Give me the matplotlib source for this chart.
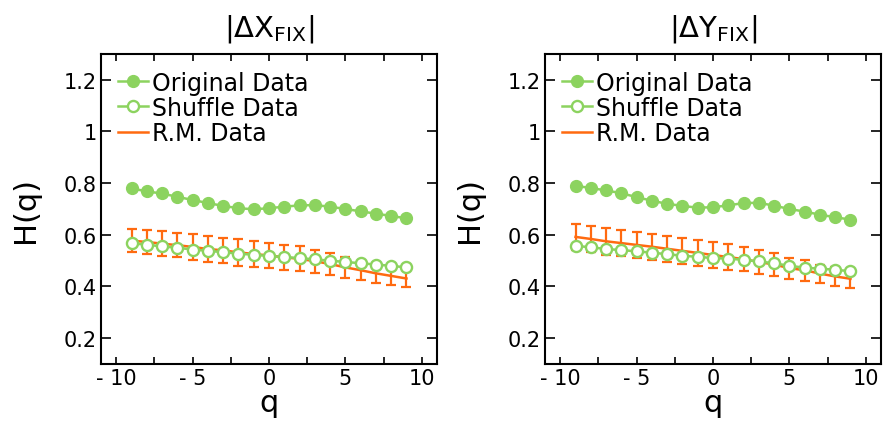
import matplotlib
matplotlib.use('Agg')
import matplotlib.pyplot as plt

# Hurst exponents H(q)
q = list(range(-9, 10))

orig_dx = [0.780, 0.768, 0.760, 0.747, 0.735, 0.723, 0.712, 0.703, 0.699, 0.703,
           0.709, 0.714, 0.715, 0.709, 0.700, 0.691, 0.682, 0.673, 0.664]
shuf_dx = [0.567, 0.562, 0.555, 0.550, 0.543, 0.538, 0.533, 0.527, 0.523, 0.518,
           0.514, 0.510, 0.505, 0.500, 0.495, 0.490, 0.485, 0.480, 0.474]
rm_dx = [0.578, 0.572, 0.566, 0.560, 0.553, 0.545, 0.540, 0.532, 0.526, 0.520,
         0.513, 0.507, 0.498, 0.487, 0.474, 0.463, 0.451, 0.441, 0.431]
rm_err_dx = [0.045, 0.047, 0.047, 0.047, 0.049, 0.049, 0.049, 0.051, 0.052, 0.049,
             0.049, 0.048, 0.045, 0.042, 0.040, 0.037, 0.036, 0.036, 0.034]

orig_dy = [0.790, 0.781, 0.772, 0.761, 0.746, 0.732, 0.720, 0.712, 0.705, 0.707,
           0.714, 0.723, 0.724, 0.713, 0.700, 0.690, 0.678, 0.668, 0.659]
shuf_dy = [0.557, 0.552, 0.545, 0.541, 0.536, 0.531, 0.525, 0.519, 0.515, 0.510,
           0.508, 0.503, 0.497, 0.490, 0.480, 0.473, 0.469, 0.465, 0.459]
rm_dy = [0.592, 0.584, 0.575, 0.568, 0.561, 0.554, 0.546, 0.538, 0.530, 0.522,
         0.514, 0.506, 0.495, 0.485, 0.471, 0.463, 0.450, 0.439, 0.430]
rm_err_dy = [0.049, 0.050, 0.053, 0.051, 0.051, 0.050, 0.051, 0.051, 0.051, 0.051,
             0.049, 0.047, 0.045, 0.045, 0.041, 0.041, 0.035, 0.036, 0.035]

titles = [r'$|\mathrm{\Delta X}_{\mathrm{FIX}}|$', r'$|\mathrm{\Delta Y}_{\mathrm{FIX}}|$']

xticks = [-10, -7.5, -5, -2.5, 0, 2.5, 5, 7.5, 10]
xticklabels = ['- 10', '', '- 5', '', '0', '', '5', '', '10']
yticks = [0.2, 0.4, 0.6, 0.8, 1.0, 1.2]
yticklabels = ['0.2', '0.4', '0.6', '0.8', '1', '1.2']

GREEN = '#8cd35f'
ORANGE = '#ff6a10'

plt.rcParams['mathtext.fontset'] = 'dejavusans'


def draw_panel(ax, orig, shuf, rm, rm_err, title):
    # R.M. first so the open circles sit on top of it
    ax.errorbar(q, rm, yerr=rm_err, fmt='none', ecolor=ORANGE, elinewidth=1.6,
                capsize=3.5, capthick=1.6, zorder=1)
    ax.plot(q, rm, color=ORANGE, lw=1.8, label='R.M. Data', zorder=2)
    ax.plot(q, orig, '-o', color=GREEN, lw=1.8, ms=8.5, label='Original Data', zorder=3)
    ax.plot(q, shuf, '-o', color=GREEN, lw=1.8, ms=8, mfc='white', mec=GREEN,
            mew=1.7, label='Shuffle Data', zorder=3)

    ax.set_xlim(-11, 11)
    ax.set_ylim(0.1, 1.3)
    ax.set_xticks(xticks)
    ax.set_xticklabels(xticklabels)
    ax.set_yticks(yticks)
    ax.set_yticklabels(yticklabels)
    ax.tick_params(axis='both', direction='in', top=True, right=True,
                   labelsize=15, width=1.2, pad=3)
    ax.tick_params(axis='y', length=7)
    ax.tick_params(axis='x', length=5)
    for s in ax.spines.values():
        s.set_linewidth(1.5)

    ax.set_xlabel('q', fontsize=22, labelpad=0)
    ax.set_ylabel('H(q)', fontsize=22, labelpad=17)
    ax.set_title(title, fontsize=21, pad=13)

    handles, labels = ax.get_legend_handles_labels()
    order = [1, 2, 0]
    ax.legend([handles[i] for i in order], [labels[i] for i in order],
              loc='upper left', frameon=False, fontsize=17, handlelength=1.3,
              handletextpad=0.15, labelspacing=0.05, borderaxespad=0.3,
              numpoints=1)


fig = plt.figure(figsize=(8.83, 4.27), dpi=100)
ax1 = fig.add_axes([101 / 883, 1 - 365 / 427, 336 / 883, 310 / 427])
ax2 = fig.add_axes([545 / 883, 1 - 365 / 427, 336 / 883, 310 / 427])

draw_panel(ax1, orig_dx, shuf_dx, rm_dx, rm_err_dx, titles[0])
draw_panel(ax2, orig_dy, shuf_dy, rm_dy, rm_err_dy, titles[1])

fig.savefig('out.png', dpi=100)
